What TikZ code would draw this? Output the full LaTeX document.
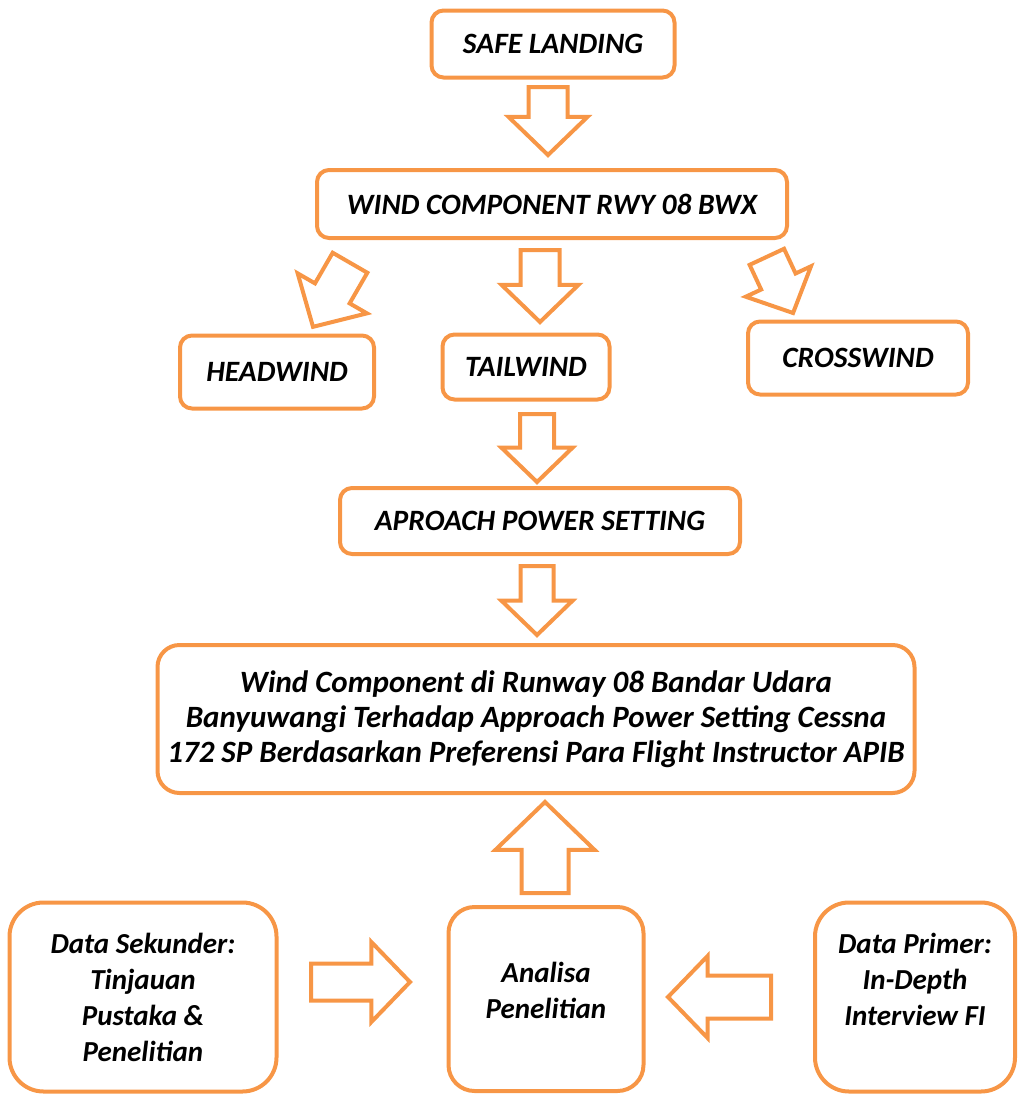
\documentclass[tikz,border=0pt]{standalone}
\usepackage{fontspec}
\setmainfont{Carlito}
\usetikzlibrary{calc}
\usetikzlibrary{shapes.arrows}
\definecolor{ornge}{HTML}{F79646}
\tikzset{
 box/.style={draw=ornge, line width=4pt, rounded corners=12pt, align=center, font=\fontsize{29.5}{35}\selectfont\bfseries\itshape},
 bigbox/.style={box, rounded corners=34pt, font=\fontsize{29}{36}\selectfont\bfseries\itshape},
 barrow/.style={single arrow, draw=ornge, line width=4pt, fill=white, inner xsep=0pt, inner ysep=17.5pt, minimum height=68pt, single arrow head extend=20pt, single arrow tip angle=92, anchor=tail}
}

\begin{document}
\begin{tikzpicture} [x=1pt, y=-1pt]
\useasboundingbox (0,0) rectangle (1019,1095);
% top row
\node[box, minimum width=243pt, minimum height=67pt] (safe) at (553,44) {SAFE LANDING};
\node[box, minimum width=470pt, minimum height=68pt] (wind) at (552,204) {WIND COMPONENT RWY 08 BWX};
\node[barrow, rotate=-90] (a1) at (548,85) {};
% wind components
\node[box, minimum width=194pt, minimum height=73pt] (head) at (277,372) {HEADWIND};
\node[box, minimum width=167pt, minimum height=65pt] (tail) at (526,367) {TAILWIND};
\node[box, minimum width=220pt, minimum height=73pt] (cross) at (858,358) {CROSSWIND};
\node[barrow, rotate=-120, minimum height=74pt, inner ysep=18pt, single arrow head extend=20pt] (a2) at (351,261) {};
\node[barrow, rotate=-90, minimum height=72pt, single arrow head extend=19pt] (a3) at (540,248) {};
\node[barrow, rotate=-65, minimum height=62pt, inner ysep=17pt, single arrow head extend=17pt] (a4) at (766,255) {};
% approach
\node[barrow, rotate=-90, inner ysep=15pt, single arrow head extend=18.5pt] (a5) at (537,412) {};
\node[box, minimum width=400pt, minimum height=66pt] (appr) at (540,521) {APROACH POWER SETTING};
\node[barrow, rotate=-90, minimum height=69pt, inner ysep=14.5pt, single arrow head extend=19pt] (a6) at (537,564) {};
\node[box, rounded corners=22pt, minimum width=757pt, minimum height=148pt, font=\fontsize{31}{35}\selectfont\bfseries\itshape] (topic) at (536,719)
 {Wind Component di Runway 08 Bandar Udara\\Banyuwangi Terhadap Approach Power Setting Cessna\\172 SP Berdasarkan Preferensi Para Flight Instructor APIB};
% bottom row
\node[bigbox, minimum width=267pt, minimum height=189pt] (sekunder) at (143,997) {Data Sekunder:\\Tinjauan\\Pustaka \&\\Penelitian};
\node[bigbox, rounded corners=26pt, minimum width=195pt, minimum height=184pt, text depth=18pt] (analisa) at (546,999) {Analisa\\Penelitian};
\node[bigbox, minimum width=200pt, minimum height=189pt] (primer) at (915,997) {Data Primer:\\In-Depth\\Interview FI\\~};
\node[barrow, rotate=90, minimum height=91pt, inner ysep=21.5pt, single arrow head extend=26pt] (a7) at (545,895) {};
\node[barrow, minimum height=99pt, inner ysep=16.5pt, single arrow head extend=21.5pt] (a8) at (309,982) {};
\node[barrow, rotate=180, minimum height=103pt, inner ysep=19.5pt, single arrow head extend=19.5pt] (a9) at (773,997) {};
\end{tikzpicture}
\end{document}
